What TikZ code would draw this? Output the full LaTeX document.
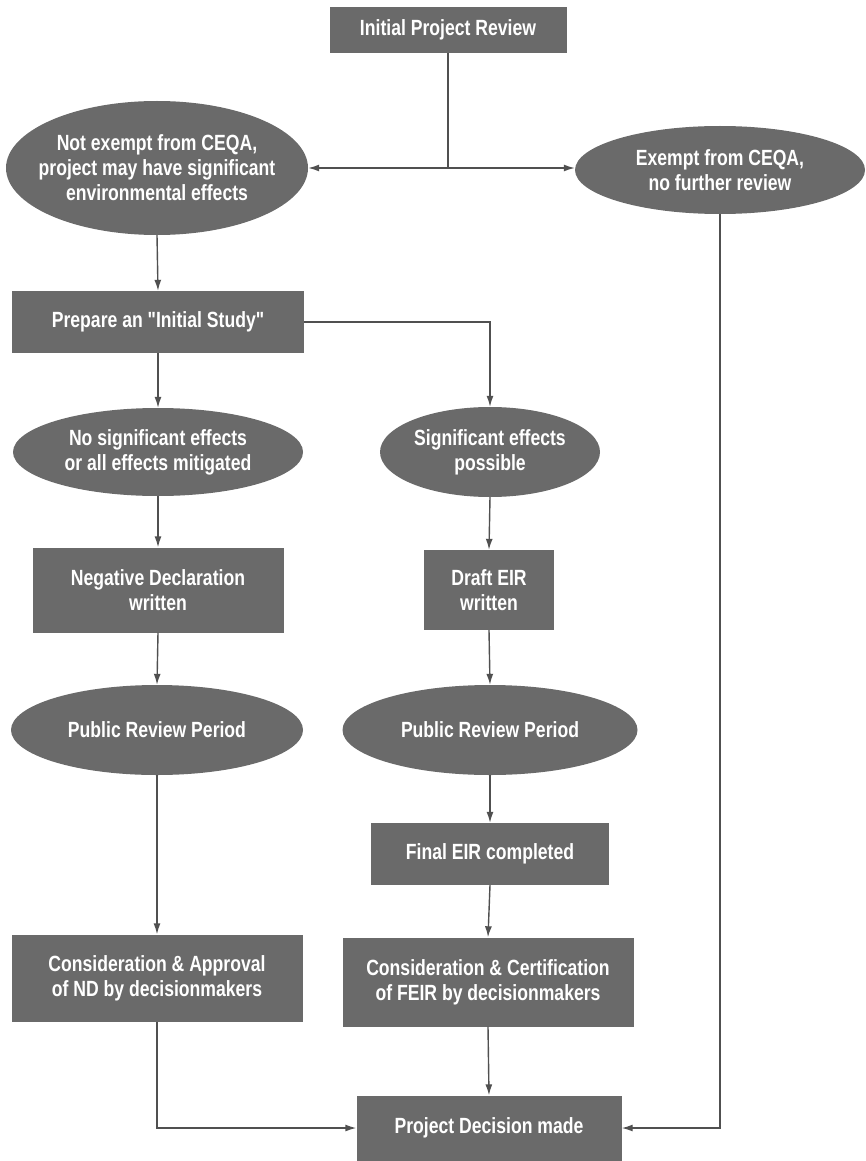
\documentclass[tikz,border=0pt]{standalone}
\usepackage{fontspec}
\newfontfamily\flowfont{Liberation Sans}[FakeStretch=0.8]
\usetikzlibrary{shapes.geometric,arrows.meta}

\definecolor{boxgray}{RGB}{106,106,106}
\definecolor{linegray}{RGB}{80,80,80}

\tikzset{
  flowtext/.style={text=white, font=\flowfont\bfseries\fontsize{22}{25}\selectfont, align=center},
  procbox/.style={rectangle, fill=boxgray, inner sep=0pt, flowtext},
  stagebox/.style={ellipse, fill=boxgray, inner sep=0pt},
  flowline/.style={linegray, line width=1.4pt, -{Latex[length=11pt,width=7pt]}}
}

\begin{document}
\begin{tikzpicture}[x=1pt,y=-1pt]
\useasboundingbox (0,0) rectangle (865,1161);

% top
\node[procbox, minimum width=237pt, minimum height=46pt] (initial) at (448,30) {Initial Project Review};
\coordinate (split) at (448,168);
\node[stagebox, minimum width=302pt, minimum height=134pt, label={[flowtext]center:{Not exempt from CEQA,\\project may have significant\\environmental effects}}] (noexempt) at (157,168) {};
\node[stagebox, minimum width=290pt, minimum height=88pt, label={[flowtext]center:{Exempt from CEQA,\\no further review}}] (exempt) at (720,170) {};

% initial study
\node[procbox, minimum width=292pt, minimum height=62pt] (prepare) at (158,322) {Prepare an "Initial Study"};
\node[stagebox, minimum width=290pt, minimum height=88pt, label={[flowtext]center:{No significant effects\\or all effects mitigated}}] (nosig) at (158,452) {};
\node[stagebox, minimum width=220pt, minimum height=90pt, label={[flowtext]center:{Significant effects\\possible}}] (sig) at (490,452) {};

% negative declaration
\node[procbox, minimum width=251pt, minimum height=85pt] (negdecl) at (158,590) {Negative Declaration\\written};
\node[stagebox, minimum width=292pt, minimum height=90pt, label={[flowtext]center:{Public Review Period}}] (review1) at (157,730) {};
\node[procbox, minimum width=291pt, minimum height=87pt] (approve) at (157,978) {Consideration \& Approval\\of ND by decisionmakers};

% EIR
\node[procbox, minimum width=130pt, minimum height=80pt] (draft) at (489,590) {Draft EIR\\written};
\node[stagebox, minimum width=295pt, minimum height=90pt, label={[flowtext]center:{Public Review Period}}] (review2) at (490,730) {};
\node[procbox, minimum width=238pt, minimum height=62pt] (final) at (490,854) {Final EIR completed};
\node[procbox, minimum width=291pt, minimum height=89pt] (certify) at (488,982) {Consideration \& Certification\\of FEIR by decisionmakers};

% decision
\node[procbox, minimum width=265pt, minimum height=65pt] (decision) at (489,1128) {Project Decision made};

% connectors
\draw [linegray, line width=1.4pt] (initial.south) -- (split);
\draw [flowline] (split) -- (split -| noexempt.east);
\draw [flowline] (split) -- (split -| exempt.west);
\draw [flowline] (noexempt.south) -- (prepare.north);
\draw [flowline] (prepare.south) -- (nosig.north);
\draw [flowline] (prepare.east) -| (sig.north);
\draw [flowline] (nosig.south) -- (negdecl.north);
\draw [flowline] (negdecl.south) -- (review1.north);
\draw [flowline] (review1.south) -- (approve.north);
\draw [flowline] (sig.south) -- (draft.north);
\draw [flowline] (draft.south) -- (review2.north);
\draw [flowline] (review2.south) -- (final.north);
\draw [flowline] (final.south) -- (certify.north);
\draw [flowline] (certify.south) -- (decision.north);
\draw [flowline] (approve.south) |- (decision.west);
\draw [flowline] (exempt.south) |- (decision.east);

\end{tikzpicture}
\end{document}
